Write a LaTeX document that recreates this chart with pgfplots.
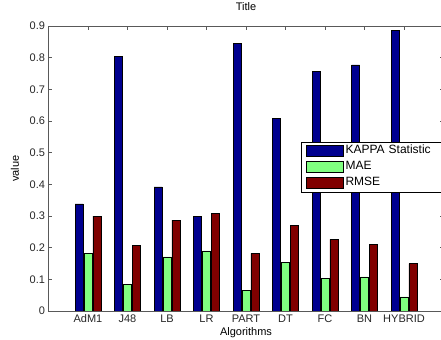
\documentclass[border=0pt]{standalone}
\usepackage{fontspec}
\setmainfont{Liberation Sans}
\usepackage{pgfplots}
\pgfplotsset{compat=1.18}
\definecolor{cblue}{rgb}{0,0,0.5625}
\definecolor{cgreen}{rgb}{0.5,1,0.5}
\definecolor{cred}{rgb}{0.5,0,0}
\definecolor{axcol}{gray}{0.35}
\pgfplotsset{myleg/.style={legend image code/.code={\draw[##1, draw=black, line width=0.4bp] (0bp,-5.5bp) rectangle (37bp,5.5bp);}}}
\begin{document}
\begin{tikzpicture}
\begin{axis}[
 at={(0,0)}, anchor=south west,
 scale only axis, width=395bp, height=285bp,
 xmin=0, xmax=10, ymin=0, ymax=0.9,
 ybar, bar width=0.2,
 xtick={1,2,3,4,5,6,7,8,9},
 xticklabels={AdM1,J48,LB,LR,PART,DT,FC,BN,HYBRID},
 ytick={0,0.1,0.2,0.3,0.4,0.5,0.6,0.7,0.8,0.9},
 yticklabels={0,0.1,0.2,0.3,0.4,0.5,0.6,0.7,0.8,0.9},
 tick align=inside, xtick pos=both, ytick pos=both,
 major tick length=3.5bp,
 axis line style={axcol, line width=0.6bp},
 every tick/.style={axcol, line width=0.6bp},
 tick label style={font=\fontsize{11bp}{13bp}\selectfont, text=black!85},
 title={Title}, xlabel={Algorithms}, ylabel={value},
 title style={font=\fontsize{11bp}{13bp}\selectfont, at={(axis description cs:0.5,1.0456)}, anchor=center},
 xlabel style={font=\fontsize{11bp}{13bp}\selectfont, at={(axis description cs:0.5,-0.077)}, anchor=center},
 ylabel style={font=\fontsize{11bp}{13bp}\selectfont, at={(axis description cs:-0.085,0.5)}, anchor=center},
 legend style={at={(0.639,0.594)}, anchor=north west, draw=black, line width=0.5bp, fill=white,
   inner xsep=5bp, inner ysep=1bp,
   font=\fontsize{12bp}{14bp}\selectfont,
   nodes={text height=8bp, text depth=2.5bp, inner ysep=2.75bp, inner xsep=2bp, text width=100bp, align=left}},
 legend cell align=left,
]
\addplot[fill=cblue, draw=black, line width=0.4bp, bar shift=-0.225, myleg] coordinates {
(1,0.338) (2,0.805) (3,0.392) (4,0.300) (5,0.845) (6,0.608) (7,0.756) (8,0.777) (9,0.887)};
\addplot[fill=cgreen, draw=black, line width=0.4bp, bar shift=0, myleg] coordinates {
(1,0.182) (2,0.084) (3,0.171) (4,0.190) (5,0.066) (6,0.154) (7,0.103) (8,0.108) (9,0.045)};
\addplot[fill=cred, draw=black, line width=0.4bp, bar shift=0.225, myleg] coordinates {
(1,0.300) (2,0.208) (3,0.287) (4,0.308) (5,0.182) (6,0.271) (7,0.226) (8,0.210) (9,0.150)};
\legend{KAPPA Statistic, MAE, RMSE}
\end{axis}
\pgfresetboundingbox
\path (-48.5bp,-29bp) rectangle (392.5bp,311bp);
\end{tikzpicture}
\end{document}
